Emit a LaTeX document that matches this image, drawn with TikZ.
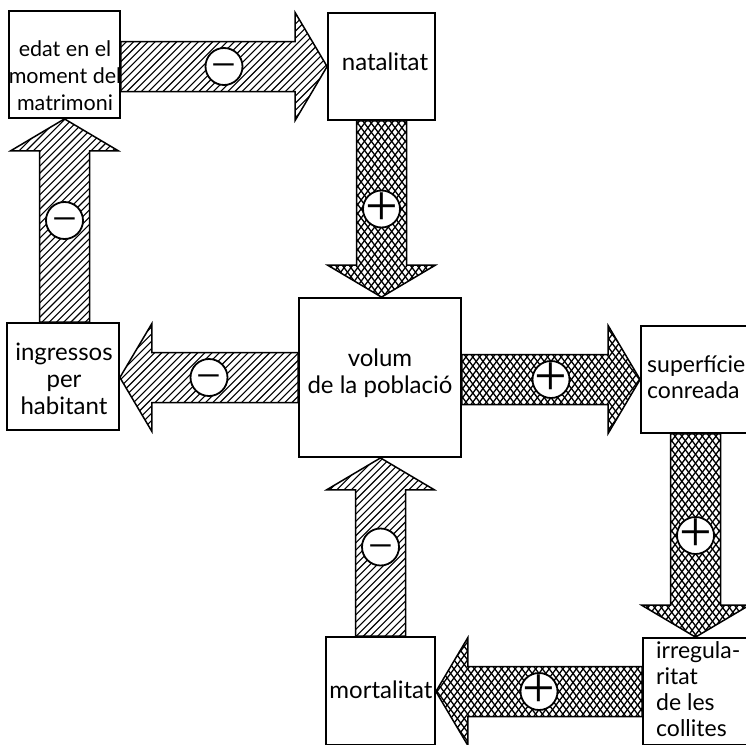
\documentclass[tikz,border=0pt]{standalone}
\usepackage{fontspec}
\setmainfont{Lato}
\newfontfamily\signfont{Liberation Serif}
\usetikzlibrary{calc}
\tikzset{
  box/.style={draw, line width=1.8pt, inner sep=0pt},
  txt/.style={inner sep=0pt, font=\fontsize{24}{27}\selectfont, align=center},
  txtl/.style={inner sep=0pt, font=\fontsize{23}{26}\selectfont, align=left, anchor=west},
  hatchfill/.style={path picture={
      \foreach \k in {-25,...,25}
        \draw[line width=1.1pt] ($(path picture bounding box.center)+(\k*7.2-125,125)$) -- ++(250,-250);
    }},
  crossfill/.style={path picture={
      \foreach \k in {-25,...,25}{
        \draw[line width=1.3pt] ($(path picture bounding box.center)+(\k*6.8-102.3,135.8)$) -- ++(204.6,-271.6);
        \draw[line width=1.3pt] ($(path picture bounding box.center)+(\k*6.8-102.3,-135.8)$) -- ++(204.6,271.6);
      }
    }},
  blockarrow/.style={draw, line width=1.5pt, line join=miter},
  sign/.style={circle, draw, line width=1.8pt, fill=white, minimum size=37pt, inner sep=-8pt, font=\signfont\fontsize{58}{58}\selectfont},
}
\newcommand{\bigarrow}[5]{%
  \coordinate (#5h) at ($(#2)!32pt!(#1)$);
  \path[blockarrow,#3] ($(#1)!25pt!90:(#2)$) -- ($(#5h)!25pt!-90:(#1)$) -- ($(#5h)!54pt!-90:(#1)$) -- (#2)
     -- ($(#5h)!54pt!90:(#1)$) -- ($(#5h)!25pt!90:(#1)$) -- ($(#1)!25pt!-90:(#2)$) -- cycle;
  \node[sign] (#5) at ($(#1)!0.5!(#2)$) {#4};
}
\newcommand{\plussign}{+}
\newcommand{\minussign}{\vphantom{+}\raisebox{3pt}{\fontsize{44}{44}\selectfont −}}
\begin{document}
\begin{tikzpicture}[x=1pt,y=-1pt]
\useasboundingbox (0,0) rectangle (746,744);
\fill[white] (0,0) rectangle (746,744);
\clip (0,0) rectangle (746,744);
% boxes
\node[box, minimum width=111pt, minimum height=107pt] (edat) at (64.5,64.5) {};
\node[box, minimum width=107pt, minimum height=107pt] (nat) at (381.5,66.5) {};
\node[box, minimum width=162pt, minimum height=159pt] (vol) at (380,377.5) {};
\node[box, minimum width=112pt, minimum height=107pt] (ing) at (63,376.5) {};
\node[box, minimum width=108pt, minimum height=107pt] (sup) at (695,379.5) {};
\node[box, minimum width=105pt, minimum height=107pt] (irr) at (695.5,691.5) {};
\node[box, minimum width=109pt, minimum height=108pt] (mort) at (380.5,691) {};
% texts
\node[txt, font=\fontsize{21.5}{27}\selectfont] (edatT) at (65,76) {edat en el\\moment del\\matrimoni};
\node[txt] (natT) at (385,62) {natalitat};
\node[txt] (volT) at (380,373) {volum\\de la població};
\node[txt] (ingT) at (64,378.5) {ingressos\\per\\habitant};
\node[txtl] (supT) at (647,377) {superfície\\conreada};
\node[txtl] (irrT) at (656,689) {irregula-\\ritat\\de les\\collites};
\node[txt] (mortT) at (381,690) {mortalitat};
% connector end points
\coordinate (a1s) at (edat.east |- nat.west);
\coordinate (a2e) at (nat.south |- vol.north);
\coordinate (a3s) at (ing.north -| edat.south);
\coordinate (a4e) at (vol.west -| ing.east);
\coordinate (a5s) at (vol.east |- sup.west);
\coordinate (a6s) at (irr.north |- sup.south);
\coordinate (a7e) at (irr.west -| mort.east);
\coordinate (a8e) at (mort.north |- vol.south);
% block arrows
\bigarrow{a1s}{nat.west}{hatchfill}{\minussign}{s1}
\bigarrow{nat.south}{a2e}{crossfill}{\plussign}{s2}
\bigarrow{a3s}{edat.south}{hatchfill}{\minussign}{s3}
\bigarrow{vol.west}{a4e}{hatchfill}{\minussign}{s4}
\bigarrow{a5s}{sup.west}{crossfill}{\plussign}{s5}
\bigarrow{a6s}{irr.north}{crossfill}{\plussign}{s6}
\bigarrow{irr.west}{a7e}{crossfill}{\plussign}{s7}
\bigarrow{mort.north}{a8e}{hatchfill}{\minussign}{s8}
\end{tikzpicture}
\end{document}
